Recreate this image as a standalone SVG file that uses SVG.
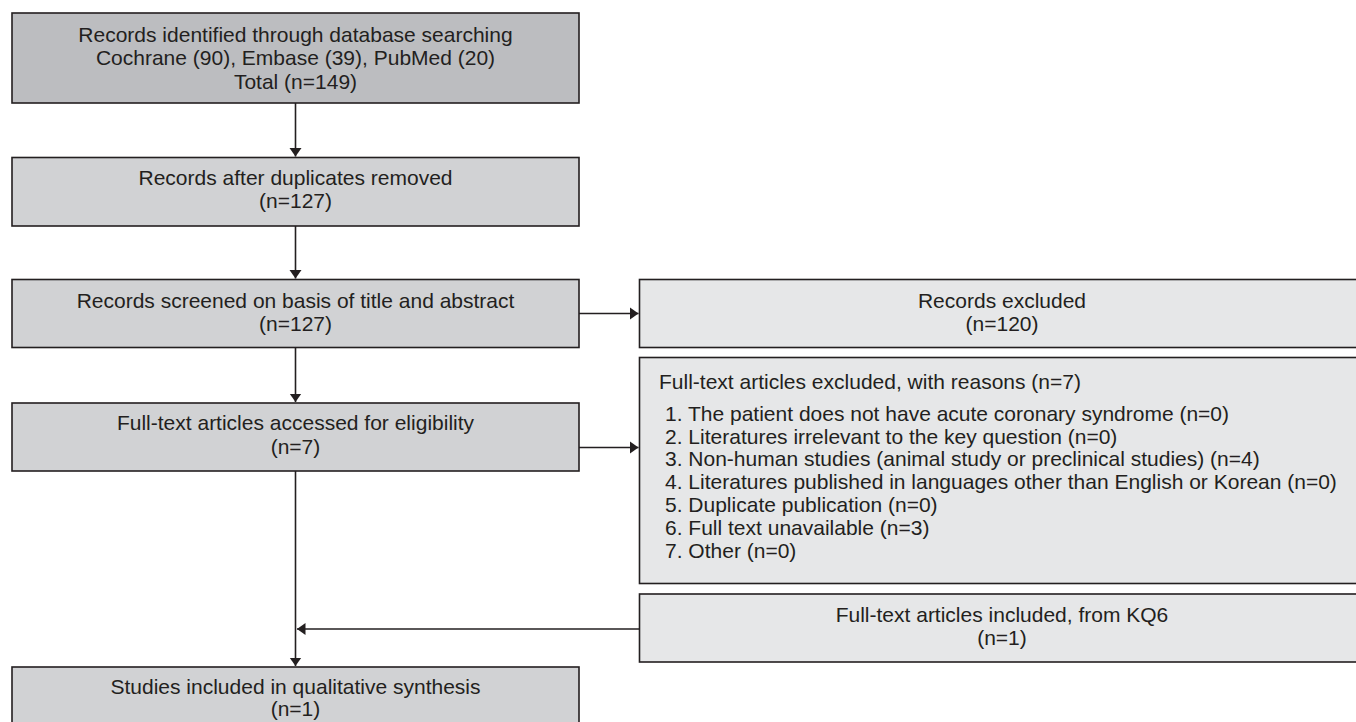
<svg xmlns="http://www.w3.org/2000/svg" width="1356" height="722" viewBox="0 0 1356 722">
<style>
.box{stroke:#231f20;stroke-width:1.6}
.dark{fill:#bcbdc0}
.mid{fill:#d1d2d4}
.light{fill:#e6e7e8}
text{font-family:"Liberation Sans",Arial,sans-serif;font-size:21px;fill:#231f20}
.c{text-anchor:middle}
.conn{stroke:#231f20;stroke-width:1.6;fill:none}
</style>
<defs>
<marker id="ah" markerUnits="userSpaceOnUse" markerWidth="10" markerHeight="13" refX="8.5" refY="6.5" orient="auto">
<path d="M0,0.5 L8.5,6.5 L0,12.5 z" fill="#231f20"/>
</marker>
</defs>
<g id="n1"><rect class="box dark" x="12" y="13" width="567" height="90"/>
<text class="c" x="295.5" y="41.5">Records identified through database searching</text>
<text class="c" x="295.5" y="65">Cochrane (90), Embase (39), PubMed (20)</text>
<text class="c" x="295.5" y="88.5">Total (n=149)</text></g>
<g id="n2"><rect class="box mid" x="12" y="157.5" width="567" height="68.5"/>
<text class="c" x="295.5" y="184.5">Records after duplicates removed</text>
<text class="c" x="295.5" y="207.5">(n=127)</text></g>
<g id="n3"><rect class="box mid" x="12" y="279.5" width="567" height="68"/>
<text class="c" x="295.5" y="308">Records screened on basis of title and abstract</text>
<text class="c" x="295.5" y="331">(n=127)</text></g>
<g id="n4"><rect class="box mid" x="12" y="403" width="567" height="68"/>
<text class="c" x="295.5" y="430">Full-text articles accessed for eligibility</text>
<text class="c" x="295.5" y="453.5">(n=7)</text></g>
<g id="n5"><rect class="box light" x="639.5" y="279.5" width="730" height="68"/>
<text class="c" x="1002" y="308">Records excluded</text>
<text class="c" x="1002" y="331">(n=120)</text></g>
<g id="n6"><rect class="box light" x="639.5" y="357.5" width="730" height="226"/>
<text x="659" y="388.5">Full-text articles excluded, with reasons (n=7)</text>
<text x="665" y="420.5">1. The patient does not have acute coronary syndrome (n=0)</text>
<text x="665" y="443.5">2. Literatures irrelevant to the key question (n=0)</text>
<text x="665" y="466.3">3. Non-human studies (animal study or preclinical studies) (n=4)</text>
<text x="665" y="489.2">4. Literatures published in languages other than English or Korean (n=0)</text>
<text x="665" y="512">5. Duplicate publication (n=0)</text>
<text x="665" y="535">6. Full text unavailable (n=3)</text>
<text x="665" y="558">7. Other (n=0)</text></g>
<g id="n7"><rect class="box light" x="639.5" y="594" width="730" height="68"/>
<text class="c" x="1002" y="622">Full-text articles included, from KQ6</text>
<text class="c" x="1002" y="645">(n=1)</text></g>
<g id="n8"><rect class="box mid" x="12" y="667" width="567" height="68"/>
<text class="c" x="295.5" y="694">Studies included in qualitative synthesis</text>
<text class="c" x="295.5" y="716">(n=1)</text></g>
<g id="connectors">
<line class="conn" x1="295.5" y1="103" x2="295.5" y2="156.5" marker-end="url(#ah)"/>
<line class="conn" x1="295.5" y1="226" x2="295.5" y2="278.5" marker-end="url(#ah)"/>
<line class="conn" x1="295.5" y1="347.5" x2="295.5" y2="402" marker-end="url(#ah)"/>
<line class="conn" x1="295.5" y1="471" x2="295.5" y2="666" marker-end="url(#ah)"/>
<line class="conn" x1="579" y1="313.5" x2="638.5" y2="313.5" marker-end="url(#ah)"/>
<line class="conn" x1="579" y1="447.5" x2="638.5" y2="447.5" marker-end="url(#ah)"/>
<line class="conn" x1="639.5" y1="629" x2="297" y2="629" marker-end="url(#ah)"/>
</g>
</svg>
